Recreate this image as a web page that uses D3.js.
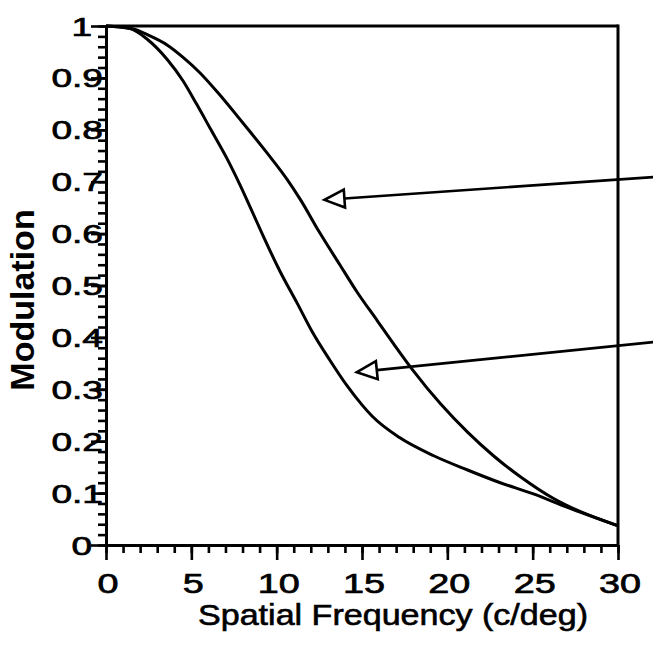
<!DOCTYPE html>
<html><head><meta charset="utf-8">
<script src="https://cdn.jsdelivr.net/npm/d3@7"></script>
<style>body{margin:0;background:#fff}svg{display:block}</style>
</head><body><svg id="c" width="653" height="645"></svg>
<script>
// ---- data ----
const upperFreq = [0, 1.5, 2.5, 3.6, 4.5, 5.5, 6.7, 8.0, 9.4, 10.6, 11.4, 12.5, 13.7, 14.7, 15.9, 16.8, 18.0, 19.6, 21.2, 22.7, 24.3, 26.2, 27.6, 30];
const upperMod  = [1.0, 0.995, 0.982, 0.963, 0.940, 0.910, 0.866, 0.814, 0.757, 0.705, 0.665, 0.603, 0.540, 0.488, 0.432, 0.390, 0.336, 0.272, 0.217, 0.172, 0.131, 0.090, 0.067, 0.037];
const lowerFreq = [0, 1.4, 2.4, 3.6, 4.5, 5.3, 6.1, 7.1, 7.85, 8.6, 9.2, 10.2, 11.2, 12.1, 13.1, 14.1, 15.0, 15.6, 17.2, 19.2, 21.15, 23.1, 25.0, 27.0, 30];
const lowerMod  = [1.0, 0.995, 0.975, 0.935, 0.895, 0.850, 0.803, 0.744, 0.694, 0.640, 0.596, 0.527, 0.466, 0.410, 0.357, 0.308, 0.270, 0.248, 0.207, 0.172, 0.145, 0.120, 0.099, 0.073, 0.037];
const xTickValues = [0, 5, 10, 15, 20, 25, 30];
const xTickLabels = ["0", "5", "10", "15", "20", "25", "30"];
const yTickValues = [0, 0.1, 0.2, 0.3, 0.4, 0.5, 0.6, 0.7, 0.8, 0.9, 1];
const yTickLabels = ["0", "0.1", "0.2", "0.3", "0.4", "0.5", "0.6", "0.7", "0.8", "0.9", "1"];
const xMinorTicks = d3.range(0, 31, 1);
const yMinorTicks = d3.range(0, 51, 1).map(d => d * 0.02);
// annotation arrows (tip and tail in data units)
const arrowTipFreq = [12.8, 14.7];
const arrowTipMod = [0.665, 0.333];
const arrowTailFreq = [32.1, 32.1];
const arrowTailMod = [0.709, 0.391];
const xTitle = "Spatial Frequency (c/deg)";
const yTitle = "Modulation";

// ---- drawing ----
const svg = d3.select("#c");
const font = "'Liberation Sans', Arial, Helvetica, sans-serif";
const x = d3.scaleLinear().domain([0, 30]).range([106, 618]);
const y = d3.scaleLinear().domain([0, 1]).range([545, 26]);

const gx = svg.append("g").attr("transform", `translate(0,${y(0)})`)
  .call(d3.axisBottom(x).tickValues(xMinorTicks).tickSize(8).tickSizeOuter(0).tickFormat(""));
const gxM = svg.append("g").attr("transform", `translate(0,${y(0)})`)
  .call(d3.axisBottom(x).tickValues(xTickValues).tickSize(15).tickSizeOuter(0).tickFormat(""));
const gy = svg.append("g").attr("transform", `translate(${x(0)},0)`)
  .call(d3.axisLeft(y).tickValues(yMinorTicks).tickSize(8).tickSizeOuter(0).tickFormat(""));
const gyM = svg.append("g").attr("transform", `translate(${x(0)},0)`)
  .call(d3.axisLeft(y).tickValues(yTickValues).tickSize(15).tickSizeOuter(0).tickFormat(""));
[gx, gxM, gy, gyM].forEach(g => {
  g.selectAll("path.domain").attr("stroke", "#000").attr("stroke-width", 3);
  g.selectAll(".tick line").attr("stroke", "#000").attr("stroke-width", 2.6);
});

// frame top and right
svg.append("line").attr("x1", x(0)).attr("x2", x(30)).attr("y1", y(1)).attr("y2", y(1))
  .attr("stroke", "#000").attr("stroke-width", 3);
svg.append("line").attr("x1", x(30)).attr("x2", x(30)).attr("y1", y(1) - 1.5).attr("y2", y(0))
  .attr("stroke", "#000").attr("stroke-width", 3);

// tick labels (wide lettering)
xTickValues.forEach((v, i) => {
  svg.append("text").attr("transform", `translate(${x(v) + 2},593) scale(1.35,1)`)
    .attr("text-anchor", "middle").attr("font-family", font).attr("font-size", 28)
    .attr("fill", "#000").attr("stroke", "#000").attr("stroke-width", 0.7).text(xTickLabels[i]);
});
yTickValues.forEach((v, i) => {
  const short = yTickLabels[i].length === 1;
  svg.append("text").attr("transform", `translate(${x(0) + (short ? -14 : -3)},${y(v) + 9.5}) scale(1.4,1)`)
    .attr("text-anchor", "end").attr("font-family", font).attr("font-size", 26.5)
    .attr("fill", "#000").attr("stroke", "#000").attr("stroke-width", 0.7).text(yTickLabels[i]);
});

// axis titles
svg.append("text").attr("x", 393).attr("y", 625).attr("text-anchor", "middle")
  .attr("font-family", font).attr("font-size", 29).attr("fill", "#000")
  .attr("stroke", "#000").attr("stroke-width", 0.6)
  .attr("textLength", 390).attr("lengthAdjust", "spacingAndGlyphs").text(xTitle);
svg.append("text").attr("transform", "translate(34,300) rotate(-90)").attr("text-anchor", "middle")
  .attr("font-family", font).attr("font-size", 34).attr("font-weight", "bold").attr("fill", "#000")
  .text(yTitle);

// curves
const line = d3.line().x(d => x(d[0])).y(d => y(d[1])).curve(d3.curveMonotoneX);
svg.append("path").datum(upperFreq.map((f, i) => [f, upperMod[i]]))
  .attr("d", line).attr("fill", "none").attr("stroke", "#000").attr("stroke-width", 3);
svg.append("path").datum(lowerFreq.map((f, i) => [f, lowerMod[i]]))
  .attr("d", line).attr("fill", "none").attr("stroke", "#000").attr("stroke-width", 3);

// arrows
arrowTipFreq.forEach((tf, i) => {
  const tx = x(tf), ty = y(arrowTipMod[i]);
  const ex = x(arrowTailFreq[i]), ey = y(arrowTailMod[i]);
  const len = Math.hypot(ex - tx, ey - ty);
  const ux = (ex - tx) / len, uy = (ey - ty) / len;
  const bx = tx + ux * 20, by = ty + uy * 20;
  const nx = -uy, ny = ux;
  svg.append("line").attr("x1", bx).attr("y1", by).attr("x2", ex).attr("y2", ey)
    .attr("stroke", "#000").attr("stroke-width", 2.6);
  svg.append("polygon")
    .attr("points", [[tx, ty], [bx + nx * 9, by + ny * 9], [bx - nx * 9, by - ny * 9]].map(p => p.join(",")).join(" "))
    .attr("fill", "#fff").attr("stroke", "#000").attr("stroke-width", 2.6).attr("stroke-linejoin", "miter");
});
</script>
</body></html>
